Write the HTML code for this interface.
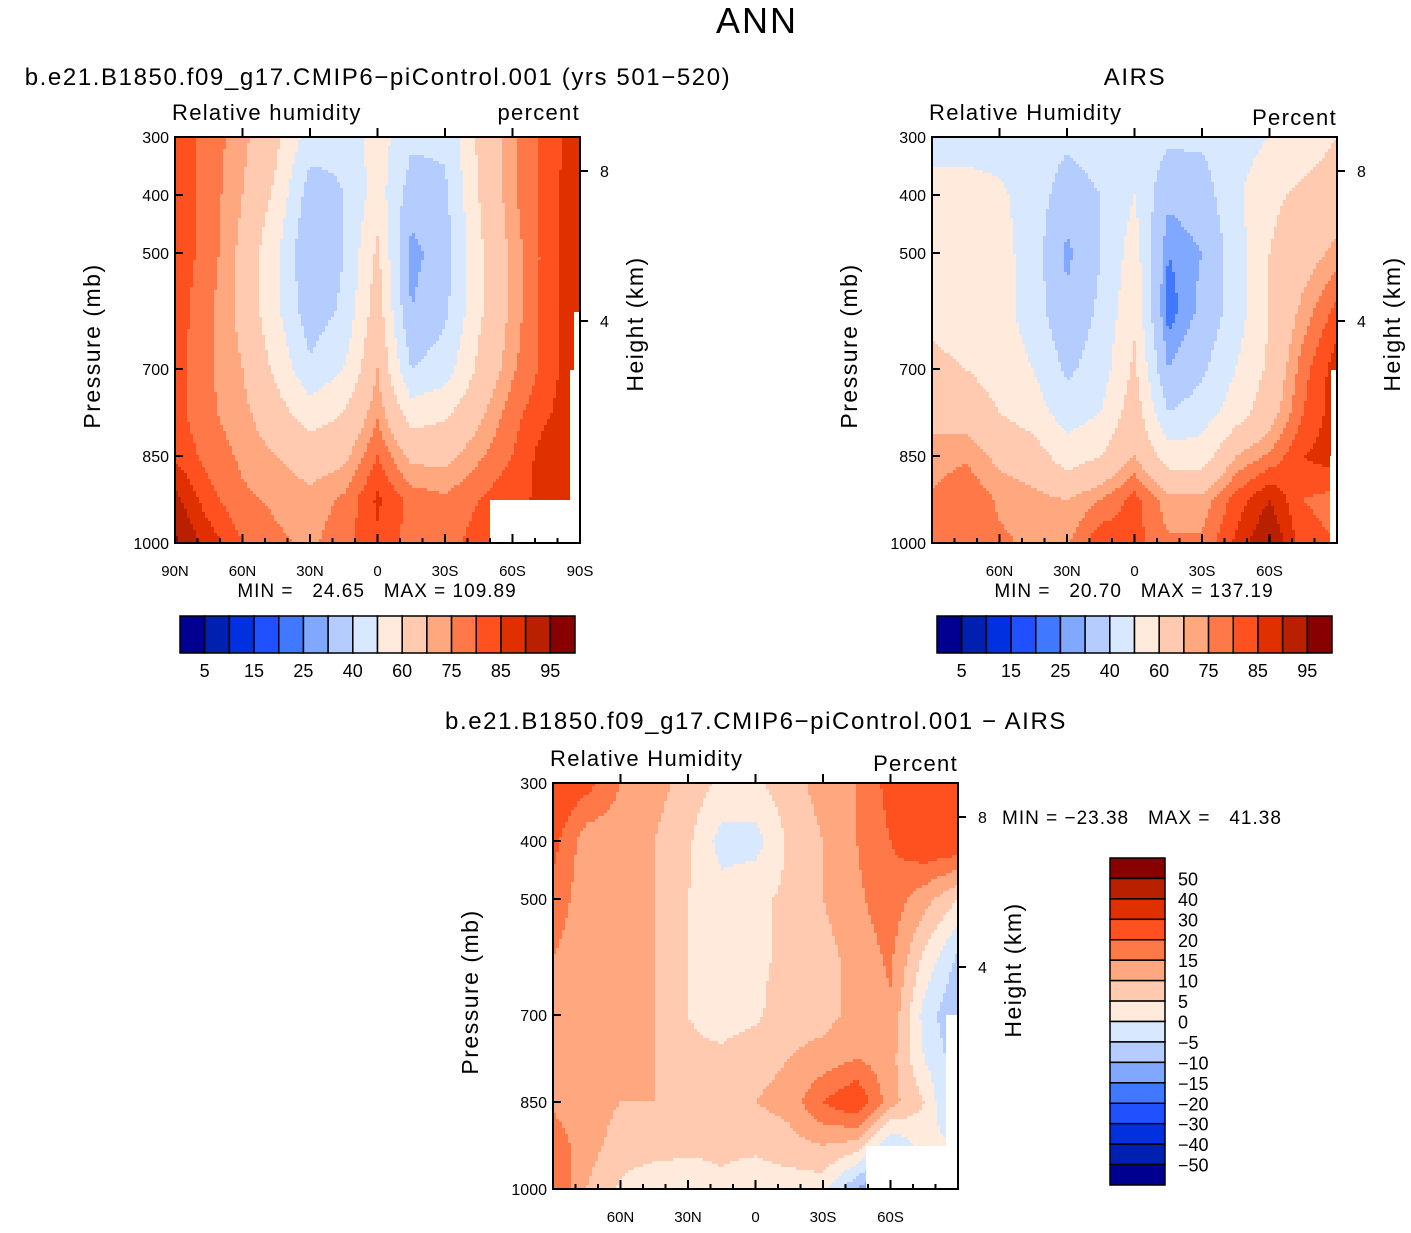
<!DOCTYPE html>
<html><head><meta charset="utf-8"><style>
body{margin:0;background:#fff;width:1411px;height:1228px;overflow:hidden;font-family:"Liberation Sans",sans-serif}
svg text{font-family:"Liberation Sans",sans-serif;fill:#000;white-space:pre}
</style></head><body>
<svg id="fig" width="1411" height="1228" viewBox="0 0 1411 1228" xmlns="http://www.w3.org/2000/svg">
<text x="757" y="33" font-size="36" text-anchor="middle" letter-spacing="2">ANN</text>
<text x="378" y="85" font-size="24" text-anchor="middle" letter-spacing="1.6">b.e21.B1850.f09_g17.CMIP6−piControl.001 (yrs 501−520)</text>
<text x="1135" y="85" font-size="24" text-anchor="middle" letter-spacing="1.6">AIRS</text>
<text x="756" y="729" font-size="24" text-anchor="middle" letter-spacing="1.6">b.e21.B1850.f09_g17.CMIP6−piControl.001 − AIRS</text>
<g id="layer"></g>
</svg>
<script>
const colors=["#000090","#0020b0","#0030e0","#2050ff","#4078ff","#80a8ff","#b4ccff","#d8e8ff","#ffeadb","#ffcab0","#ffa880","#ff7848","#ff5020","#e03000","#b82000","#880000"];
const rhLevels=[5,10,15,20,25,30,40,50,60,70,75,80,85,90,95];
const rhLabels=["5","15","25","40","60","75","85","95"];
const diffLevels=[-50,-40,-30,-20,-15,-10,-5,0,5,10,15,20,30,40,50];
const diffLabels=["−50","−40","−30","−20","−15","−10","−5","0","5","10","15","20","30","40","50"];
const lats=[90,75,60,45,30,15,0,-15,-30,-45,-60,-75,-90];
const plevs=[300,400,500,600,700,775,850,925,1000];
const modelRH=[
[83,78,72,62,45,42,55,42,42,62,74,82,88],
[83,78,70,58,35,40,55,35,38,60,74,82,90],
[83,78,68,52,30,40,62,27,35,58,72,82,90],
[83,76,68,52,34,42,66,30,38,58,72,82,90],
[82,76,70,58,42,50,70,40,45,62,74,82,90],
[82,76,72,64,55,60,74,55,58,68,78,84,90],
[84,78,74,70,66,68,80,68,68,74,80,88,90],
[92,82,76,74,72,76,86,78,76,80,84,86,88],
[96,88,80,76,74,78,84,78,78,82,86,86,88]];
const airsRH=[
[45,45,45,45,42,45,48,42,42,45,50,55,60],
[55,55,52,45,35,40,50,32,35,48,58,62,65],
[58,56,54,45,28,40,55,25,30,45,60,66,72],
[58,56,54,45,32,42,58,22,32,45,60,72,82],
[62,60,56,50,38,45,62,30,38,50,62,78,88],
[68,66,60,55,45,50,66,40,45,55,66,80,88],
[72,74,68,65,55,60,70,55,55,70,76,85,88],
[76,80,74,72,70,75,82,72,72,82,90,80,78],
[78,80,76,74,74,84,82,76,76,86,96,82,80]];
const diffRH=[
[25,22,15,12,8,4,4,8,12,15,22,25,25],
[22,12,12,10,6,-2,-2,6,10,15,20,25,25],
[18,12,12,10,5,2,4,6,10,14,18,12,5],
[15,12,12,10,5,2,4,6,8,12,16,4,-6],
[15,14,12,10,5,3,4,8,8,12,14,-2,-10],
[15,14,12,10,6,6,8,10,12,15,12,0,-8],
[14,12,10,10,8,8,10,12,20,25,12,5,-10],
[18,12,8,8,6,6,6,8,10,8,-5,2,0],
[20,10,4,0,2,4,2,2,2,-10,-20,5,5]];
const pTicks=[300,400,500,700,850,1000];
const latTicks=[90,60,30,0,-30,-60,-90];
const latTickLabels=["90N","60N","30N","0","30S","60S","90S"];
const NS="http://www.w3.org/2000/svg";
const layer=document.getElementById('layer');
function el(tag,attrs,parent){const e=document.createElementNS(NS,tag);for(const k in attrs)e.setAttribute(k,attrs[k]);(parent||layer).appendChild(e);return e;}
function interp(grid,lat,p){
  let i=0;while(i<lats.length-2&&lat<lats[i+1])i++;
  let j=0;while(j<plevs.length-2&&p>plevs[j+1])j++;
  const tx=(lats[i]-lat)/(lats[i]-lats[i+1]);const ty=(p-plevs[j])/(plevs[j+1]-plevs[j]);
  const a=grid[j][i]*(1-tx)+grid[j][i+1]*tx;const b=grid[j+1][i]*(1-tx)+grid[j+1][i+1]*tx;
  return a*(1-ty)+b*ty;}
function colorFor(v,levels){let k=0;while(k<levels.length&&v>=levels[k])k++;return colors[k];}
function panel(grid,levels,x0,y0,name,bottomLabels,masks,topL,topR,topRy){
  const w=405,h=406;
  const g=el('g',{});
  
  
  const xs=lat=>x0+(90-lat)/180*w, ys=p=>y0+(p-300)/700*h;
  const cs=3;
  for(let px=0;px<w;px+=cs)for(let py=0;py<h;py+=cs){
    const lat=90-(px+cs/2)/w*180,p=300+(py+cs/2)/h*700;
    const r=el('rect',{x:x0+px,y:y0+py,width:Math.min(cs+0.6,w-px),height:Math.min(cs+0.6,h-py),fill:colorFor(interp(grid,lat,p),levels)},g);
    
    
  }
  masks.forEach(m=>{const r=el('rect',{x:m[0],y:m[1],width:m[2],height:m[3],fill:'#fff'},g);
    
    });
  const f=el('rect',{x:x0,y:y0,width:w,height:h,fill:'none',stroke:'#000','stroke-width':2},g);
  
  
  pTicks.forEach(p=>{const y=ys(p);el('line',{x1:x0,x2:x0+8,y1:y,y2:y,stroke:'#000','stroke-width':2},g);
    const t=el('text',{x:x0-6,y:y+6,'font-size':16,'text-anchor':'end'},g);t.textContent=p;
    
    });
  for(let lat=90;lat>=-90;lat-=10){const x=xs(lat);const L=(lat%30===0)?9:5;
    el('line',{x1:x,x2:x,y1:y0+h,y2:y0+h-L,stroke:'#000','stroke-width':2},g);
    el('line',{x1:x,x2:x,y1:y0,y2:y0-(lat%30===0&&Math.abs(lat)<90?9:0),stroke:'#000','stroke-width':2},g);}
  latTicks.forEach((lat,k)=>{if(!bottomLabels&&Math.abs(lat)===90)return;
    const t=el('text',{x:xs(lat),y:y0+h+33,'font-size':15,'text-anchor':'middle'},g);t.textContent=latTickLabels[k];
    
    });
  [[8,171-137],[4,321-137]].forEach(([km,dy])=>{el('line',{x1:x0+w,x2:x0+w+8,y1:y0+dy,y2:y0+dy,stroke:'#000','stroke-width':2},g);
    const t=el('text',{x:x0+w+20,y:y0+dy+6,'font-size':16},g);t.textContent=km;
    
    });
  const yl=el('text',{x:0,y:0,'font-size':23,'text-anchor':'middle','letter-spacing':1.5,transform:`translate(${x0-75},${y0+h/2+6}) rotate(-90)`},g);
  yl.textContent='Pressure (mb)';
  
  
  const yr=el('text',{x:0,y:0,'font-size':23,'text-anchor':'middle','letter-spacing':1.5,transform:`translate(${x0+w+63},${y0+h/2-16}) rotate(-90)`},g);
  yr.textContent='Height (km)';
  
  
  const tl=el('text',{x:x0-3,y:y0-17,'font-size':22,'letter-spacing':1.3},g);tl.textContent=topL;
  
  
  const tr=el('text',{x:x0+w,y:y0-topRy,'font-size':22,'text-anchor':'end','letter-spacing':1.3},g);tr.textContent=topR;
  
  
}
function hbar(x0,y0,name){
  const g=el('g',{});
  
  
  const bw=395/16;
  colors.forEach((c,k)=>{const r=el('rect',{x:x0+k*bw,y:y0,width:bw,height:37,fill:c,stroke:'#000','stroke-width':1.5},g);
    
    });
  rhLabels.forEach((s,k)=>{const t=el('text',{x:x0+(1+2*k)*bw,y:y0+61,'font-size':18,'text-anchor':'middle'},g);t.textContent=s;
    
    });
}
function stat(x,y,txt,name,anchor){const t=el('text',{x:x,y:y,'font-size':19,'text-anchor':anchor,'letter-spacing':1});t.textContent=txt;
  
  }
panel(modelRH,rhLevels,175,137,'model-panel',true,[[490,500,90,43],[574,312,6,58],[570,370,10,130]],'Relative humidity','percent',17);
panel(airsRH,rhLevels,932,137,'airs-panel',false,[[1331,370,6,86],[1330,456,7,87]],'Relative Humidity','Percent',12);
panel(diffRH,diffLevels,553,783,'diff-panel',false,[[866,1146,80,43],[946,1015,12,174]],'Relative Humidity','Percent',12);
stat(377,597,'MIN =   24.65   MAX = 109.89','model-min-max','middle');
stat(1134,597,'MIN =   20.70   MAX = 137.19','airs-min-max','middle');
stat(1002,824,'MIN = −23.38   MAX =   41.38','diff-min-max','start');
hbar(180,616,'model-colorbar');
hbar(937,616,'airs-colorbar');
(function(){
  const g=el('g',{});
  
  
  const bh=327/16;
  for(let k=0;k<16;k++){const r=el('rect',{x:1110,y:858+k*bh,width:55,height:bh,fill:colors[15-k],stroke:'#000','stroke-width':1.5},g);
    
    }
  for(let k=0;k<15;k++){const t=el('text',{x:1178,y:858+(k+1)*bh+7,'font-size':18},g);t.textContent=diffLabels[14-k];
    
    }
})();
</script>
</body></html>
